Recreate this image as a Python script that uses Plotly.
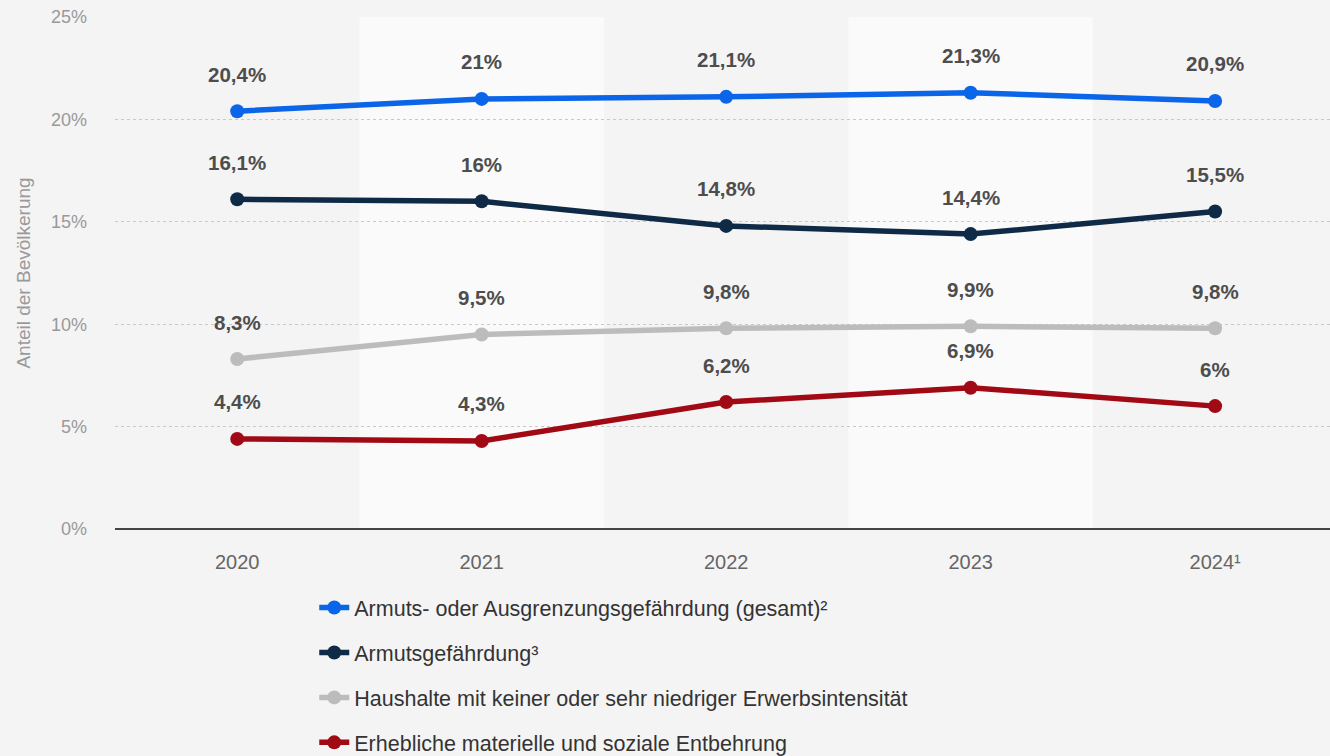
import plotly.graph_objects as go

years = ["2020", "2021", "2022", "2023", "2024¹"]
series_names = [
    "Armuts- oder Ausgrenzungsgefährdung (gesamt)²",
    "Armutsgefährdung³",
    "Haushalte mit keiner oder sehr niedriger Erwerbsintensität",
    "Erhebliche materielle und soziale Entbehrung",
]
gesamt = [20.4, 21.0, 21.1, 21.3, 20.9]
armut = [16.1, 16.0, 14.8, 14.4, 15.5]
haushalte = [8.3, 9.5, 9.8, 9.9, 9.8]
entbehrung = [4.4, 4.3, 6.2, 6.9, 6.0]
colors = ["#0b65e8", "#0f2a46", "#bcbcbc", "#a10a14"]
y_ticks = [0, 5, 10, 15, 20, 25]
y_tick_labels = ["0%", "5%", "10%", "15%", "20%", "25%"]

all_series = [gesamt, armut, haushalte, entbehrung]
FONT = "Liberation Sans, Arial, Helvetica, sans-serif"


def fmt(v):
    s = ("%.1f" % v).rstrip("0").rstrip(".")
    return s.replace(".", ",") + "%"


fig = go.Figure()
xs = list(range(len(years)))
for name, vals, col in zip(series_names, all_series, colors):
    fig.add_trace(go.Scatter(
        x=xs, y=vals, name=name, mode="lines+markers",
        line=dict(color=col, width=5.5),
        marker=dict(color=col, size=14),
        legendgroup=name,
        hoverinfo="skip",
    ))
    for xi, v in zip(xs, vals):
        fig.add_annotation(x=xi, y=v, text=fmt(v), showarrow=False,
                           yshift=37, font=dict(size=20.5, color="#4d4d4d",
                                                family=FONT, weight="bold"))

# alternating column bands
for i in range(len(years)):
    if i % 2 == 1:
        fig.add_shape(type="rect", xref="x", yref="paper", x0=i - 0.5, x1=i + 0.5,
                      y0=0, y1=1, fillcolor="#fafafa", line=dict(width=0), layer="below")

fig.update_layout(
    width=1330, height=756,
    margin=dict(l=115, r=0, t=17, b=227),
    paper_bgcolor="#f4f4f4", plot_bgcolor="#f4f4f4",
    font=dict(family=FONT, color="#666"),
    showlegend=True,
    legend=dict(
        x=0.164, xanchor="left",
        yref="container", y=0.2235, yanchor="top",
        orientation="v", tracegroupgap=14,
        font=dict(size=21.5, color="#333"),
        bgcolor="rgba(0,0,0,0)",
    ),
)
fig.update_xaxes(
    range=[-0.5, 4.47], tickmode="array", tickvals=xs, ticktext=years,
    showgrid=False, zeroline=False, showline=False,
    tickfont=dict(size=20, color="#666"), ticklabelstandoff=19,
    fixedrange=True,
)
fig.update_yaxes(
    range=[0, 25], tickmode="array", tickvals=y_ticks, ticktext=y_tick_labels,
    showgrid=True, gridcolor="#c8c8c8", griddash="dot", gridwidth=1,
    zeroline=True, zerolinecolor="#444", zerolinewidth=2,
    tickfont=dict(size=18, color="#999"), ticklabelstandoff=27,
    title=dict(text="Anteil der Bevölkerung", font=dict(size=19, color="#999"), standoff=15),
    fixedrange=True,
)

fig.write_html(
    "out.html",
    config={"displayModeBar": False},
    post_script="document.body.style.margin='0';document.body.style.background='#f4f4f4';",
)
